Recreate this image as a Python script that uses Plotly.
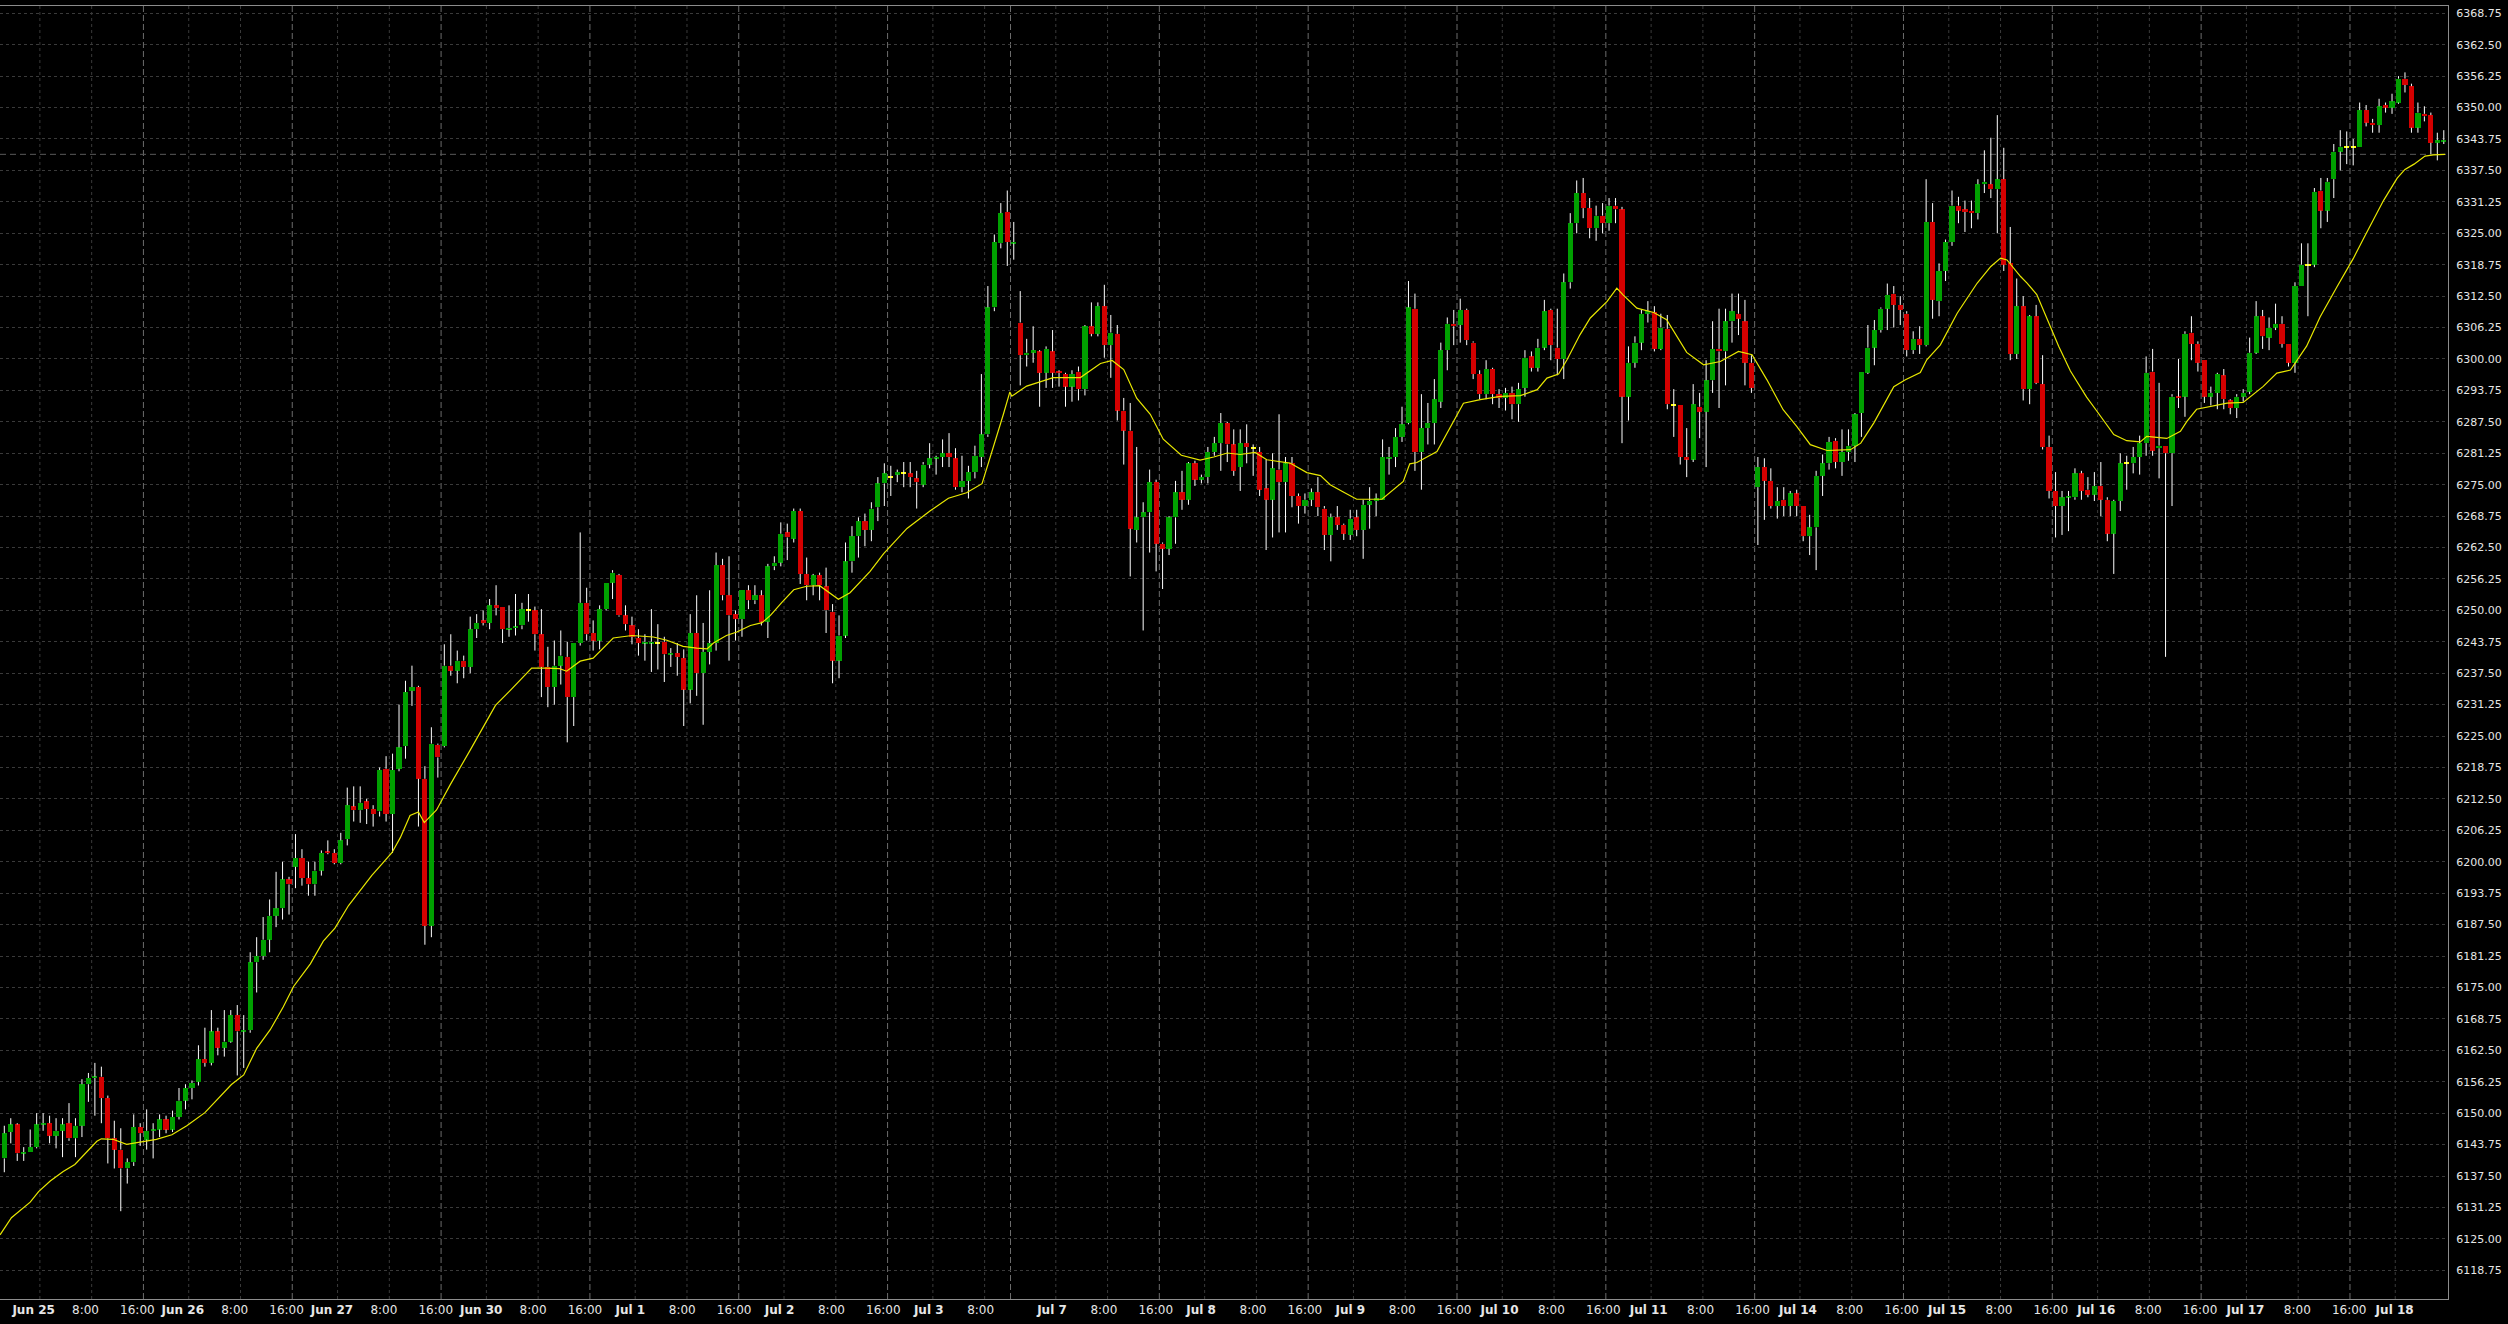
import plotly.graph_objects as go

# ---------------- data (hourly bars) ----------------
opens = [
6141,6146.25,6147.75,6142,6142.25,6143.25,6147.75,6148,6145.5,6146.5,
6148,6145,6147.5,6155.75,6157,6157.25,6153,6145,6142.75,6139,
6140.25,6147.25,6144.75,6146.5,6146.75,6148.75,6146.75,6149.25,6152.5,6155,
6156.25,6160.75,6160,6166.25,6163,6164.25,6169.5,6166.25,6166.5,6180,
6181.25,6184.5,6189.25,6190.75,6196.5,6199,6200.75,6196.75,6195.5,6198.25,
6202,6201.75,6199.75,6204.5,6211,6210.25,6212,6210.5,6210,6218.5,
6209.5,6218.5,6223,6234,6234.75,6216.5,6187.25,6223.25,6223,6239,
6238,6240,6238.75,6246.25,6248,6247.5,6251,6250.75,6246.25,6246.5,
6247,6250,6250,6245.25,6238.75,6234.75,6239,6240.75,6232.75,6243.5,
6251.5,6245.5,6244,6250.25,6255.5,6257,6249,6247,6244.5,6243.5,
6243.5,6243.5,6243.75,6241.25,6241.5,6240.5,6234.25,6245.5,6237.5,6241.75,
6243.5,6259,6253,6249.25,6248.25,6254,6252,6253,6247.75,6258.75,
6259.5,6265.5,6264.25,6269.75,6257.25,6255,6257,6254.75,6249.75,6240,
6245,6259.75,6264.75,6267.75,6266,6270.5,6275.25,6276.5,6277,6277.25,
6277.25,6276.25,6275,6279,6280.25,6280.5,6281.25,6280.25,6274.5,6275.75,
6277.5,6280.5,6285,6310.25,6323,6329.25,6323,6307.25,6300.75,6301.25,
6301.5,6297.25,6301.5,6297.5,6297,6294.5,6297.5,6294,6306.5,6305,
6310.5,6302.75,6305,6289.75,6285.75,6266,6268.5,6269.5,6275.5,6263.25,
6262.25,6268.5,6273.5,6272,6279.25,6276,6276.5,6281.5,6283.25,6287.25,
6283,6278.5,6283.25,6282.25,6281.5,6274.25,6272,6278,6275.5,6279.25,
6272.75,6270.75,6272,6273.5,6270.25,6265,6268.5,6267,6265,6268.5,
6266,6271,6271.75,6272,6280.25,6280.5,6284.5,6287.25,6310,6281.5,
6286.25,6287.25,6291.5,6301.75,6307,6306.75,6309.75,6303.25,6297,6293,
6298,6293,6292.25,6293.25,6291,6294.25,6300.5,6298.25,6302.25,6309.75,
6302.25,6300,6315.25,6327,6333,6330,6326,6328.5,6327,6330.5,
6329.75,6292.5,6299.25,6303.25,6309,6309.25,6302,6306,6290.75,6290.75,
6280.5,6280,6290.5,6289.5,6295.75,6302,6301.5,6307.5,6309,6307.5,
6299.25,6274.5,6278.5,6275.75,6270.75,6272,6270.75,6273.25,6270.75,6264.75,
6266.5,6276.75,6279.25,6283.75,6279.5,6281.5,6282.75,6289.25,6297.25,6302.25,
6305.75,6310,6313,6310.75,6309,6301.75,6304,6302.75,6327.25,6311.5,
6317.5,6323.25,6330.5,6329.75,6329.5,6329,6334.75,6334.75,6333.75,6335.75,
6319,6301,6310.5,6294,6308.5,6295,6282.5,6273.75,6270.75,6272.5,
6272.5,6277.25,6274,6273,6274.75,6272,6265.25,6271.75,6279.25,6279.25,
6280.5,6283.25,6297.5,6282.25,6282.75,6281.25,6292.5,6292.5,6305.25,6303,
6299.75,6292.5,6293.25,6296.75,6291.75,6290.25,6292.5,6293.5,6301.25,6308.5,
6304.25,6306.25,6307,6303,6299.25,6314.5,6318.75,6318.75,6333.5,6329.5,
6335.75,6341.25,6342.25,6342.25,6342.25,6349.5,6347,6346.5,6350.5,6350,
6351,6355.75,6354.25,6346,6348.75,6348.5,6343,6343.25]

highs = [
6147.5,6149,6148,6143.25,6146.75,6150,6150,6149.5,6149,6149,
6152,6149,6156.75,6158,6160,6159.25,6153.5,6148.5,6147,6141,
6149.75,6148,6150.75,6148,6149.75,6149.5,6150.5,6155,6155.75,6156.5,
6163.5,6167,6170.5,6167,6170.5,6170.5,6171.5,6169.5,6182,6185,
6189,6192.5,6198,6200,6197,6205.5,6202.5,6200,6200,6202.25,
6204.25,6202.5,6205.75,6214.75,6215,6215,6212.5,6211.25,6218.75,6221,
6221.5,6231.25,6236,6239,6235,6219,6226.75,6223.5,6243.25,6245.25,
6242,6241,6248.75,6249.25,6250,6252.25,6255,6250.75,6251,6253.25,
6251.5,6253.25,6250.75,6250.25,6242.75,6244,6246,6243.75,6243.5,6265.5,
6254.5,6248,6251,6255.5,6258,6257.25,6251,6248.75,6246.25,6245.25,
6250.25,6247.25,6244.75,6242.5,6243.5,6242.25,6249.25,6253,6247.5,6254,
6261.5,6260.25,6260.75,6250,6254,6255,6255,6254,6259.25,6260.75,
6267.5,6267.25,6270.25,6270.25,6260.5,6257.25,6257.5,6258.5,6251.25,6249,
6263.5,6266.75,6268.5,6269.25,6271.5,6276.5,6279.25,6278.75,6278,6279.5,
6279.5,6277.75,6279.5,6283.25,6280.75,6284,6285.25,6282.25,6280.75,6278.75,
6282.75,6297,6314.5,6324.75,6331,6333.5,6327.25,6313.5,6304,6306.5,
6301.75,6302.5,6305.75,6297.75,6297.25,6297.75,6298.5,6306.75,6311.25,6311.25,
6314.75,6308.75,6306.75,6292.25,6291.25,6282.5,6271.5,6278,6276,6263.5,
6268.75,6275.75,6277.75,6279.5,6279.75,6277,6282.5,6284.5,6289.25,6287.5,
6286,6286,6287,6283,6282.5,6280,6281.25,6289,6280.5,6280.5,
6273.25,6273.25,6274.25,6276.5,6270.75,6269.25,6270.75,6267.25,6270,6270,
6272,6274.5,6273.25,6284,6282.5,6286.25,6290.5,6315.5,6313,6293,
6291.25,6296,6303.25,6308.25,6309.75,6312,6310,6303.5,6297.75,6299.75,
6298.25,6294,6294.25,6294.5,6295.25,6301.75,6301.5,6304,6311.75,6310,
6310,6317,6329,6335.5,6336,6332,6330.5,6331,6332,6332,
6330.25,6302.5,6304.5,6309.75,6311.5,6310.5,6309,6308.75,6294,6290.75,
6286.25,6295,6293.25,6299.75,6307.5,6310,6310,6313,6313,6311.75,
6300.75,6280.5,6280.25,6278.25,6274.5,6274.5,6273.75,6274,6270.75,6269,
6277.75,6281,6284.5,6284.25,6286,6286,6289.25,6297.5,6306.75,6307.75,
6310.25,6315,6314.5,6312.5,6309.5,6305.5,6306.5,6335.75,6331,6319,
6323.75,6333.5,6332.25,6331.5,6331.5,6335.75,6341.5,6344,6348.5,6342,
6326.25,6316,6312.5,6308.75,6310.75,6300.75,6284.75,6277.5,6273.75,6273.75,
6278.25,6277.75,6276.5,6277.5,6279.5,6272.5,6272,6281.25,6280.75,6282.5,
6284.75,6300.5,6302,6295.25,6282.75,6293,6300,6305.5,6308.5,6303.5,
6299.75,6294.5,6297.25,6298,6292,6293,6294,6304.25,6311.5,6309.75,
6308.25,6311,6308.5,6303,6315.25,6323,6323,6334,6336,6336,
6342.75,6345.5,6345.25,6343.75,6351,6350.5,6347.75,6351.75,6351,6352.75,
6356.25,6357,6354.75,6351,6350.25,6349,6345,6345.5]

lows = [
6138.25,6144,6140.5,6140.5,6142.25,6143,6146.5,6144,6143,6141.25,
6144.5,6141.25,6145.25,6152.25,6149.5,6148,6140,6139,6130.5,6136,
6139.5,6143.5,6142.75,6141,6145.25,6146,6146.25,6148.75,6150.75,6152.75,
6155.5,6159.25,6159.5,6161.5,6161.25,6164,6157.5,6159,6166,6174,
6180.5,6182,6187,6188.5,6189.5,6194.75,6195.25,6193.25,6193.25,6197.25,
6201.5,6199.5,6199.5,6203.25,6208,6207.75,6207.5,6207,6209,6208,
6201.75,6218,6220.5,6231,6207,6183.5,6185,6216.75,6222.75,6237,
6235.5,6236.5,6237.5,6244.5,6247,6246.25,6249,6243.5,6244.75,6245,
6246.25,6247.75,6242,6232.75,6230.75,6231.25,6235.25,6223.75,6227,6243,
6244,6242,6242.25,6250,6252.25,6248.75,6246,6243.25,6241,6240,
6237.75,6238.25,6235.75,6238.75,6237,6227,6231.5,6233,6227.25,6239.25,
6242,6252,6240,6244,6244.75,6250.25,6251.25,6247,6244.5,6258,
6258.75,6260,6263.5,6255.25,6252,6253,6252,6245.5,6235.5,6236.5,
6244.5,6257.5,6260.5,6262.75,6263.75,6267.75,6270.75,6272.75,6275.5,6274.5,
6274.5,6270.25,6274.5,6278.25,6277,6278.5,6278.5,6274,6273.5,6272.25,
6276.25,6278.5,6284.5,6309.5,6322,6318.5,6319.75,6294.75,6298.5,6299.25,
6290.5,6294.25,6294.25,6294.5,6290.5,6291.5,6291.75,6292.75,6304.5,6304.5,
6300.25,6296.25,6287.75,6279,6256.75,6263.5,6246,6261.5,6257.75,6254.25,
6261,6263.25,6270,6271,6274.75,6275.25,6275.25,6280.75,6277.75,6279.5,
6276.75,6273.75,6279.25,6276.75,6272.75,6262,6264.5,6265.5,6265.5,6270.5,
6267.25,6269.25,6270.75,6268.75,6262,6259.75,6266,6264,6264,6264.75,
6260.25,6266.25,6268.75,6272,6277,6278.5,6283.5,6287,6277.75,6274,
6283,6283,6290.25,6297.75,6302.75,6303.25,6302.75,6296,6292,6292,
6291,6290.25,6289.75,6288,6287.5,6292.5,6297.5,6297.5,6301.75,6299.75,
6296.75,6296,6314,6325,6328,6324,6323.5,6325,6325.5,6327,
6283.25,6287.75,6298.25,6301.75,6307.25,6301.5,6301.75,6290,6284.5,6279,
6276.5,6279.5,6284.25,6278.5,6293.25,6290.25,6294.75,6303.25,6304.75,6294.75,
6293.25,6263,6268,6270.25,6268.25,6268.75,6268.75,6268.75,6263.75,6261,
6258,6272.75,6278,6278.25,6276.75,6279.75,6279.5,6284.5,6297,6298.75,
6305.25,6305.75,6306.25,6306.75,6300.5,6301,6301,6302.5,6308,6308.5,
6315.5,6322.5,6327,6325.25,6326,6327.75,6333,6332,6325,6317.5,
6299.75,6300,6291.75,6291,6295,6282,6272.25,6264.5,6265,6265.75,
6272,6272,6272.5,6271.75,6268.75,6263.75,6257.25,6269.75,6274,6277.25,
6277,6280.75,6280.75,6276.25,6240.75,6270.75,6290.25,6288.5,6299.75,6297.5,
6291.25,6290.75,6290,6290,6289,6288.25,6291.5,6293,6301,6302,
6301.75,6305.75,6302.25,6298.5,6297.25,6314.5,6308.5,6318.25,6326,6327.25,
6332,6337.5,6338.75,6338.5,6342.25,6346.25,6345,6345,6349,6348.75,
6350.75,6353,6345,6345,6347.25,6340.75,6339.5,6342.75]

closes = [
6146,6147.75,6142,6142.25,6143.25,6147.75,6148,6145.5,6146.5,6147.75,
6145,6147.5,6155.75,6157,6157.25,6153,6145,6142.75,6139,6140.25,
6147.25,6146,6146.5,6146.75,6148.75,6146.75,6149.25,6152.5,6155,6156,
6160.75,6160,6166.25,6163,6164.25,6169.5,6166.25,6166.5,6180,6181.25,
6184.5,6189.25,6190.75,6196.5,6195.5,6200.75,6196.75,6195.5,6198.25,6201.75,
6201.75,6199.75,6204.25,6211.25,6210.25,6211.75,6210.5,6209.5,6218.25,6209.5,
6218.25,6222.75,6233.75,6234.75,6216.5,6187.25,6223.5,6220.75,6239,6238,
6240,6238.75,6246.25,6247.5,6247.5,6251,6250.5,6246.25,6246.5,6246.75,
6250.25,6250,6245.25,6238.75,6234.75,6239,6241,6232.75,6243.5,6251.5,
6245.25,6244,6250.25,6255.5,6257.5,6249,6247.25,6244.75,6243.5,6243.75,
6243.75,6243.5,6241.25,6241.5,6240.75,6234.25,6245.5,6237.5,6241.75,6243.5,
6259,6253,6249,6248.25,6254,6252,6253,6247.75,6258.75,6259.5,
6265.25,6264.5,6269.75,6257.25,6255,6257,6255,6250,6240,6245,
6259.75,6264.75,6267.75,6266,6270.25,6275.25,6277.25,6276.5,6277.5,6277.25,
6276.5,6275.5,6279,6280.25,6280.5,6281.25,6280.5,6274.5,6275.75,6277.5,
6280.75,6285,6310.25,6323.25,6329,6323.25,6323.25,6300.75,6301.25,6301.75,
6297.25,6302,6297.25,6297.25,6294.5,6297,6294,6306.5,6305,6310.5,
6302.75,6305.25,6289.75,6285.75,6266.25,6268.5,6269.5,6275.5,6263.25,6262.25,
6268.5,6273.5,6272,6279.25,6276,6276.5,6281.5,6283.25,6287.25,6283,
6277.75,6283.25,6282.5,6282.25,6274,6272,6278.25,6275.5,6279.25,6272.75,
6270.75,6272,6273.5,6270.5,6265,6268.5,6267,6265.25,6268.25,6266,
6271,6271.75,6272.25,6280.5,6280.5,6284.5,6287,6310.25,6281.5,6286.25,
6287.25,6292,6301.75,6307,6306.5,6309.75,6303.75,6297,6293,6298,
6293,6292.25,6293.25,6291,6294,6300.25,6298.25,6302.25,6309.5,6302.75,
6300,6315.25,6327,6333,6330,6326,6328.5,6327,6330.5,6329.75,
6292.5,6299.25,6303.25,6309,6309.5,6302,6306.25,6291,6290.75,6280.5,
6280,6291,6289.5,6295.75,6302,6301.5,6307.5,6309.5,6308,6299.25,
6294.25,6278.5,6275.75,6270.75,6271.75,6270.75,6273.25,6270.75,6264.75,6266.5,
6276.75,6279.25,6283.5,6279.5,6281.5,6282.75,6289,6297.5,6302.25,6305.75,
6310,6312.75,6310.75,6309.75,6301.75,6304,6302.75,6327.25,6311.75,6317.5,
6323.25,6330.5,6329.5,6329.25,6329,6334.75,6335.25,6333.75,6335.75,6318.75,
6301,6310.5,6294,6308.5,6295.25,6282.5,6273.75,6270.75,6272.5,6272.75,
6277.25,6273.75,6273,6274.75,6272,6265.25,6271.75,6279.25,6279.25,6280.5,
6283.25,6297.25,6281.75,6282.75,6281.25,6292.5,6292.25,6305,6303,6299.25,
6292.5,6293.25,6297,6292,6290.25,6292.5,6293.25,6301.25,6308.5,6304.5,
6306.25,6307,6303,6299.25,6314.5,6318.75,6318.75,6333.25,6329.5,6335.25,
6341.25,6342.25,6342.25,6342.25,6349.5,6347,6346.5,6350.25,6350,6351.25,
6355.75,6354.5,6346,6349,6348.25,6343,6343.5,6343.5]

# moving-average line, read at sample points (bar index, value)
ma_x = [-0.66,0,1.1,4,5.3,7.1,9.1,10.9,13,14.3,15,16.8,18.9,21,23.5,25.9,28.2,31,33,35.1,
        37,39,41.1,43.1,44.7,47.3,49.3,51.1,53.2,55,56.8,58.1,59.9,61.2,62.7,64,64.9,66.8,68.9,72,
        75.9,78.2,81.5,83.7,85.8,86.9,89,91,94.1,97,100.3,102.4,104.9,107,108.6,109.6,111.6,113.2,115.3,117.1,
        118.4,120.2,122,124,126,128.9,130.7,133.8,135.9,139.5,143.1,145.9,148.7,151.1,152.9,154.4,155.4,155.7,158,160.6,
        162.1,166.3,167.3,169.4,171.2,173,175,177.1,179.1,181.9,184.8,186.9,189,191,193.3,195.1,198.7,201.3,203.4,204.9,
        207,209,212.9,216.2,217.2,218.3,221.4,225.5,228.1,231.2,234.3,236.9,238.4,240.2,241.5,243.5,245.1,247.7,249.2,250.2,
        252.3,254.9,256.9,260,262.6,265.2,268,270.1,272.4,274.9,277,279.1,281.7,285.3,286.9,288.9,292,293.8,296.1,297.1,
        299.2,301.8,304.9,307,308.5,309.5,311.6,312.6,314.1,316.2,317.5,319.3,321.8,323.4,326,328,330.1,331.1,334.2,336.3,
        337.3,338.8,341.4,343.5,346,349.1,351.2,353.3,355.8,357.9,360.5,363,364.6,367.7,369.8,371,372.4,374.1,375.4,377.2]
ma_y = [6125.8,6127,6129.2,6132.3,6134.4,6136.5,6138.4,6139.8,6142.7,6144.4,6144.9,6144.8,6143.8,6144.3,6144.8,6145.7,6147.5,6150.1,6152.8,6155.7,
        6157.6,6162.9,6166.6,6171.1,6175.2,6179.7,6184.2,6186.8,6191.3,6194.3,6197.3,6199.2,6201.8,6204.8,6209.2,6209.9,6207.8,6210.3,6215.3,6222.2,
        6231.1,6234.1,6238.5,6238.5,6238.4,6237.9,6239.9,6240.5,6244.5,6245,6244.7,6244.05,6242.85,6242.5,6242.35,6243.5,6245,6245.7,6247,6247.55,
        6249,6251.65,6254.1,6254.8,6254.9,6252.2,6253.5,6257.75,6261.3,6266.3,6269.8,6272.3,6273.4,6275.2,6282.6,6289,6293.45,6292.6,6294.6,6295.6,
        6296.3,6296.3,6297.2,6299.1,6299.7,6297.9,6292.2,6289,6284.05,6280.85,6279.9,6280.5,6281.3,6281,6281.4,6279.95,6279.3,6277.4,6276.8,6275,
        6273.5,6272.1,6272.1,6275.65,6279.15,6279.4,6281.6,6291.2,6291.9,6292.55,6292.7,6293.9,6296.2,6297,6299.85,6304.8,6308.15,6311.45,6314.1,6312.7,
        6310.1,6309.25,6307.8,6301.3,6298.85,6299.5,6301.5,6300.85,6295.85,6289.9,6286.6,6282.95,6281.8,6281.95,6283.25,6287.25,6294.5,6295.85,6297.3,6299.85,
        6302.8,6309.1,6315.1,6318.4,6320.05,6319.7,6316.4,6315.1,6312.8,6306.5,6302.5,6297.6,6292.4,6289.6,6284.95,6283.75,6283.5,6284.6,6284.2,6285.6,
        6287.6,6290,6290.6,6291.2,6291.35,6294.55,6297.2,6297.8,6302.55,6308.4,6314.35,6319.95,6323.95,6331.55,6335.95,6337.7,6338.75,6340.35,6340.6,6340.7]

# time axis structure
day_labels = ["Jun 25","Jun 26","Jun 27","Jun 30","Jul 1","Jul 2","Jul 3","Jul 7","Jul 8",
              "Jul 9","Jul 10","Jul 11","Jul 14","Jul 15","Jul 16","Jul 17","Jul 18"]
day_bars = [23,23,23,23,23,23,19,23,23,23,23,23,23,23,23,23,8]
lead_bars = 6
session_break = [16,16,16,16,16,16,12,16,16,16,16,16,16,16,16,16,None]

y_ticks = [6118.75 + 6.25*k for k in range(41)]

# ---------------- styles ----------------
GREEN = "#00a000"
RED = "#d40000"
YEL = "#ffff00"
GRID = "#3a3a3a"
GRID_BRK = "#6c6c6c"
FONT = "DejaVu Sans"

n = len(opens)
idx = list(range(n))

base, hgt, cols = [], [], []
for o, c in zip(opens, closes):
    if c > o:
        base.append(o); hgt.append(c - o); cols.append(GREEN)
    elif c < o:
        base.append(c); hgt.append(o - c); cols.append(RED)
    else:
        base.append(o - 0.2); hgt.append(0.4); cols.append(YEL)

# wicks split above / below the body so they never cross it
wx, wy = [], []
for i in idx:
    top = max(opens[i], closes[i])
    bot = min(opens[i], closes[i])
    if highs[i] > top:
        wx += [i, i, None]; wy += [top, highs[i], None]
    if lows[i] < bot:
        wx += [i, i, None]; wy += [lows[i], bot, None]

fig = go.Figure()
fig.add_trace(go.Bar(x=idx, y=hgt, base=base, width=0.8,
                     marker=dict(color=cols, line=dict(width=0)), showlegend=False))
fig.add_trace(go.Scatter(x=wx, y=wy, mode="lines", line=dict(color="#ffffff", width=1),
                         hoverinfo="skip", showlegend=False))
fig.add_trace(go.Scatter(x=ma_x, y=ma_y, mode="lines", line=dict(color="#e8e800", width=1.2),
                         hoverinfo="skip", showlegend=False))

# vertical grid + labels
shapes = []
tick_pos, tick_txt = [], []
def label_pos(g):
    return g - (0.97 - 0.87 * (g - 5.5) / 364.0)

pos = lead_bars - 0.5
for d, lab in enumerate(day_labels):
    shapes.append(dict(type="line", xref="x", yref="paper", x0=pos, x1=pos, y0=0, y1=1,
                       line=dict(color=GRID, width=1, dash="3px,3px"), layer="below"))
    tick_pos.append(label_pos(pos)); tick_txt.append("<b>%s</b>" % lab)
    if 8 < day_bars[d]:
        g = pos + 8
        shapes.append(dict(type="line", xref="x", yref="paper", x0=g, x1=g, y0=0, y1=1,
                           line=dict(color=GRID, width=1, dash="3px,3px"), layer="below"))
        tick_pos.append(label_pos(g)); tick_txt.append("8:00")
    if session_break[d] is not None:
        g = pos + session_break[d]
        shapes.append(dict(type="line", xref="x", yref="paper", x0=g, x1=g, y0=0, y1=1,
                           line=dict(color=GRID_BRK, width=1, dash="6px,3px"), layer="below"))
        if session_break[d] == 16:
            tick_pos.append(label_pos(g)); tick_txt.append("16:00")
    pos += day_bars[d]

# last MA value line
shapes.append(dict(type="line", xref="paper", yref="y", x0=0, x1=1, y0=ma_y[-1], y1=ma_y[-1],
                   line=dict(color="#5a5a5a", width=1, dash="6px,4px"), layer="below"))

fig.update_layout(
    width=2508, height=1324,
    margin=dict(l=0, r=60, t=6, b=25),
    paper_bgcolor="#000000", plot_bgcolor="#000000",
    barmode="overlay", bargap=0,
    shapes=shapes,
    font=dict(family=FONT, size=11, color="#e6e6e6"),
    xaxis=dict(range=[-0.665, 377.65], showgrid=False, zeroline=False,
               tickmode="array", tickvals=tick_pos, ticktext=tick_txt,
               ticks="", showline=True, mirror=True, linecolor="#8c8c8c", linewidth=1,
               tickfont=dict(family=FONT, size=12, color="#e6e6e6")),
    yaxis=dict(range=[6113.04, 6370.2], side="right", showgrid=True, gridcolor=GRID,
               griddash="3px,3px", gridwidth=1, zeroline=False,
               tickmode="array", tickvals=y_ticks, ticktext=["%.2f" % v for v in y_ticks],
               ticks="", ticklabelstandoff=5, showline=True, mirror=True,
               linecolor="#8c8c8c", linewidth=1,
               tickfont=dict(family=FONT, size=11, color="#e6e6e6")),
)

fig.write_html("out.html", config={"displayModeBar": False},
               post_script="document.body.style.margin='0';document.body.style.background='#000';")
